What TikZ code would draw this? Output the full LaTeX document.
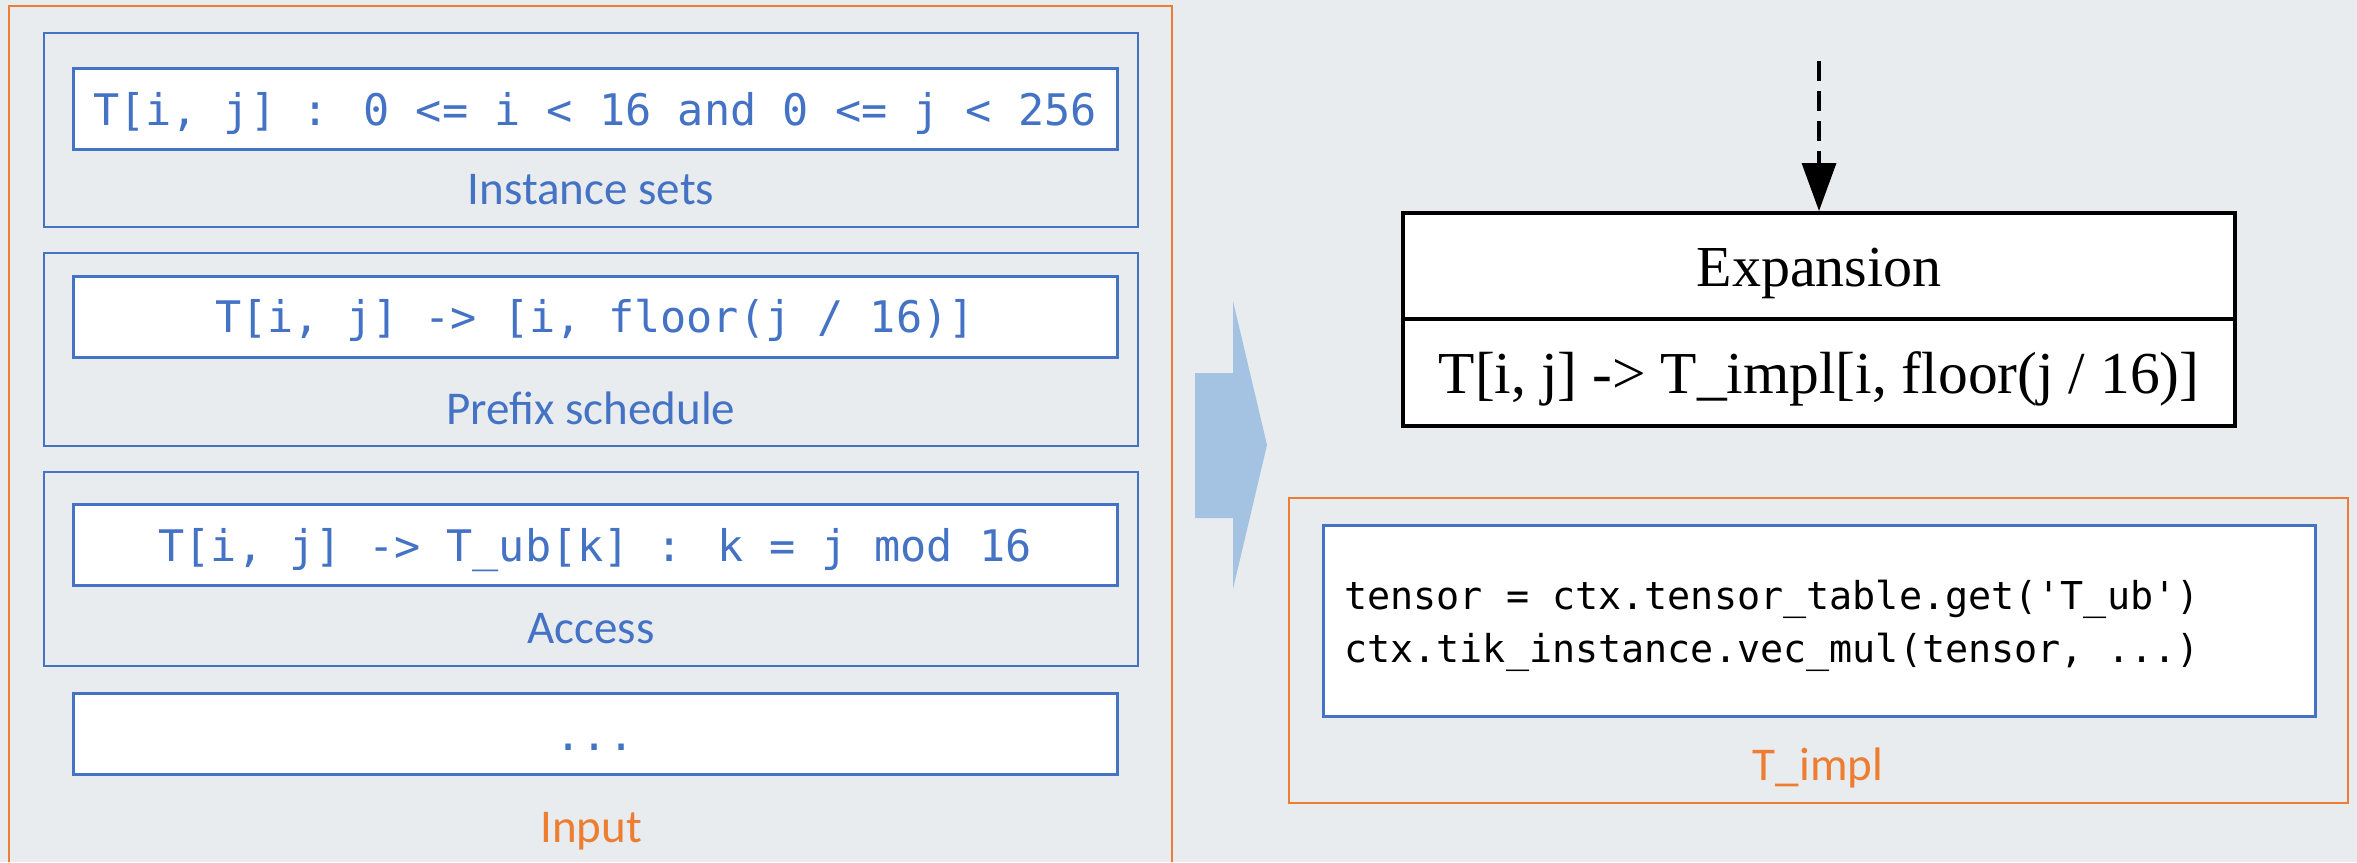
\documentclass[tikz,border=0pt]{standalone}
\usepackage{fontspec}
\setmainfont{Carlito}
\newfontfamily\codefont{DejaVu Sans Mono}
\newfontfamily\timesface{Liberation Serif}
\usetikzlibrary{arrows.meta}
\definecolor{bg}{RGB}{232,236,239}
\definecolor{ofblue}{RGB}{68,114,196}
\definecolor{oforange}{RGB}{237,125,49}
\definecolor{flowblue}{RGB}{164,195,227}

\begin{document}
\begin{tikzpicture}[x=1pt,y=-1pt,
  frame/.style={draw=oforange, line width=2pt},
  group/.style={draw=ofblue, line width=2.5pt, inner sep=0pt, minimum width=1094pt, minimum height=194pt},
  inbox/.style={draw=ofblue, line width=3pt, fill=white, inner sep=0pt, minimum width=1044pt, minimum height=81pt},
  expcell/.style={draw=black, line width=4pt, fill=white, inner sep=0pt, minimum width=832pt},
  txt/.style={anchor=base, inner sep=0pt},
  bluecode/.style={txt, text=ofblue, font=\codefont\fontsize{43.5}{52}\selectfont},
  bluelabel/.style={txt, text=ofblue, font=\fontsize{47}{56}\selectfont},
  orangelabel/.style={txt, text=oforange, font=\fontsize{47}{56}\selectfont},
  blackcode/.style={anchor=base west, inner sep=0pt, font=\codefont\fontsize{38.4}{53}\selectfont},
  serif/.style={txt, font=\timesface\fontsize{58}{68}\selectfont}]

% canvas
\fill[bg] (0,0) rectangle (2357,862);
\useasboundingbox (0,0) rectangle (2357,862);

% Input container (runs off the bottom edge)
\draw[frame] (9,862) -- (9,6) -- (1172,6) -- (1172,862);

% instance sets
\node[group] (iset) at (591,130) {};
\node[inbox] (isetbox) at (595,108.5) {};
\node[bluecode] (isettxt) at (595,125) {T[i, j] : 0 <= i < 16 and 0 <= j < 256};
\node[bluelabel] (isetlbl) at (591,204) {Instance sets};

% prefix schedule
\node[group, minimum height=193pt] (pre) at (591,349.5) {};
\node[inbox] (prebox) at (595,316.5) {};
\node[bluecode] (pretxt) at (595,332) {T[i, j] -> [i, floor(j / 16)]};
\node[bluelabel] (prelbl) at (591,424) {Prefix schedule};

% access
\node[group] (acc) at (591,569) {};
\node[inbox] (accbox) at (595,544.5) {};
\node[bluecode] (acctxt) at (595,561) {T[i, j] -> T\_ub[k] : k = j mod 16};
\node[bluelabel] (acclbl) at (591,643) {Access};

% further entries
\node[inbox] (dotsbox) at (595,733.5) {};
\node[bluecode] (dotstxt) at (595,750) {...};

\node[orangelabel] (inlbl) at (591,842) {Input};

% block arrow between the two halves
\fill[flowblue] (1195,373) -- (1233,373) -- (1233,301) -- (1267,445)
  -- (1233,589) -- (1233,518) -- (1195,518) -- cycle;

% expansion record
\node[expcell, minimum height=106pt] (exp) at (1819,266) {};
\node[expcell, minimum height=107pt] (map) at (1819,372.5) {};
\node[serif] (exptxt) at (1819,286) {Expansion};
\node[serif, font=\timesface\fontsize{59.5}{68}\selectfont] (maptxt) at (1819,393) {T[i, j] -> T\_impl[i, floor(j / 16)]};

\coordinate (src) at (1819,61);
\draw[line width=3.5pt, dash pattern=on 20pt off 10pt,
  -{Triangle[length=48pt,width=34pt]}] (src) -- (exp.north);

% T_impl container
\node[frame, inner sep=0pt, minimum width=1059pt, minimum height=305pt] (impl) at (1818.5,650.5) {};
\node[draw=ofblue, line width=3pt, fill=white, inner sep=0pt, minimum width=992pt, minimum height=191pt] (codebox) at (1819,620.5) {};
\node[blackcode] (code1) at (1344,609) {tensor = ctx.tensor\_table.get('T\_ub')};
\node[blackcode] (code2) at (1344,662) {ctx.tik\_instance.vec\_mul(tensor, ...)};
\node[orangelabel] (impllbl) at (1818,780) {T\_impl};
\end{tikzpicture}
\end{document}
